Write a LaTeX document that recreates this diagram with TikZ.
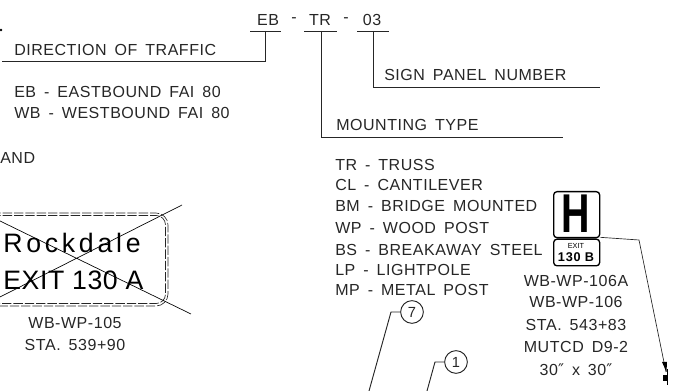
\documentclass[tikz,border=0pt]{standalone}
\usepackage{fontspec}
\setmainfont{Liberation Sans}
\newfontfamily\cad[LetterSpace=3.4,WordSpace=1.6]{Liberation Sans}
\newfontfamily\signa[LetterSpace=14]{Liberation Sans}
\newfontfamily\signb[LetterSpace=2]{Liberation Sans}
\newfontfamily\signc[LetterSpace=6]{Liberation Sans}
\begin{document}
\begin{tikzpicture}[x=0.75pt,y=-0.75pt,
  ink/.style={line width=0.7pt,black!85},
  txt/.style={font=\cad\fontsize{12}{14}\selectfont,inner sep=0pt,anchor=west,black!85},
  ctxt/.style={font=\cad\fontsize{12}{14}\selectfont,inner sep=0pt,anchor=center,black!85},
  signname/.style={font=\signa\fontsize{20}{22}\selectfont,inner sep=0pt,anchor=center,black},
  signexit/.style={font=\signb\fontsize{20}{22}\selectfont,inner sep=0pt,anchor=center,black},
  balloon/.style={draw,circle,ink,minimum size=17pt,inner sep=0pt,font=\fontsize{11}{13}\selectfont},
  panel/.style={draw=black,line width=1pt,rounded corners=2.5pt,inner sep=0pt,anchor=north west}]
\useasboundingbox (0,0) rectangle (687,391);
% code line
\node[ctxt] (eb) at (268,20) {EB};
\node[ctxt] at (294,20) {-};
\node[ctxt] (tr) at (320,20) {TR};
\node[ctxt] at (346,20) {-};
\node[ctxt] (pn) at (372,20) {03};
\coordinate (ebl) at (250,31); \coordinate (ebr) at (281,31);
\coordinate (trl) at (304,31); \coordinate (trr) at (337,31);
\coordinate (pnl) at (357,31); \coordinate (pnr) at (389,31);
\draw[ink] (ebl) -- (ebr) (trl) -- (trr) (pnl) -- (pnr);
\coordinate (ebt) at (265,31); \coordinate (ebc) at (265,61); \coordinate (ebe) at (2,61);
\coordinate (trt) at (321,31); \coordinate (trc) at (321,137); \coordinate (tre) at (563,137);
\coordinate (pnt) at (373,31); \coordinate (pnc) at (373,87); \coordinate (pne) at (600,87);
\draw[ink] (ebt) -- (ebc) -- (ebe);
\draw[ink] (trt) -- (trc) -- (tre);
\draw[ink] (pnt) -- (pnc) -- (pne);
\fill[black] (1,30) circle (1.3);
% labels
\node[txt] (dir) at (14,50) {DIRECTION OF TRAFFIC};
\node[txt] (eb1) at (14,92) {EB - EASTBOUND FAI 80};
\node[txt] (wb1) at (14,113) {WB - WESTBOUND FAI 80};
\node[txt] (and) at (0,158) {AND};
\node[txt] (spn) at (384,75) {SIGN PANEL NUMBER};
\node[txt] (mt) at (336,125) {MOUNTING TYPE};
\node[txt] (l1) at (335,165) {TR - TRUSS};
\node[txt] (l2) at (335,185) {CL - CANTILEVER};
\node[txt] (l3) at (335,206) {BM - BRIDGE MOUNTED};
\node[txt] (l4) at (335,228) {WP - WOOD POST};
\node[txt] (l5) at (335,250) {BS - BREAKAWAY STEEL};
\node[txt] (l6) at (335,270) {LP - LIGHTPOLE};
\node[txt] (l7) at (335,290) {MP - METAL POST};
% left sign
\draw[ink,dash pattern=on 7pt off 1.5pt,line width=0.5pt,rounded corners=9pt] (-20,213) -- (168,213) -- (168,306) -- (-20,306);
\draw[ink,dash pattern=on 7pt off 1.5pt,line width=0.5pt,rounded corners=7pt] (-20,215.5) -- (165.5,215.5) -- (165.5,303.5) -- (-20,303.5);
\node[signname] (rock) at (72,243) {Rockdale};
\node[signexit] (exa) at (73.5,280) {EXIT 130 A};
\coordinate (xa) at (182,205); \coordinate (xb) at (0,297);
\coordinate (xc) at (0,221); \coordinate (xd) at (191,314);
\draw[line width=0.5pt] (xa) -- (xb) (xc) -- (xd);
\node[ctxt] (w105) at (75,323) {WB-WP-105};
\node[ctxt] (s105) at (75,345) {STA. 539+90};
% right sign
\node[panel,minimum width=34.5pt,minimum height=34.5pt] (hp) at (553,191) {};
\node[font=\fontsize{41}{41}\selectfont\bfseries,inner sep=0pt,xscale=0.72] (hl) at (576,214) {H};
\node[panel,minimum width=34.5pt,minimum height=20pt] (ep) at (553,238.5) {};
\node[font=\fontsize{5.5}{5.5}\selectfont,inner sep=0pt] (ex) at (576,245.5) {EXIT};
\node[font=\signc\fontsize{9.5}{9.5}\selectfont\bfseries,inner sep=0pt] (bl) at (576,257) {130 B};
\node[ctxt] at (576,281) {WB-WP-106A};
\node[ctxt] at (576,302) {WB-WP-106};
\node[ctxt] at (576,325) {STA. 543+83};
\node[ctxt] at (576,347) {MUTCD D9-2};
\node[ctxt] at (576,370) {30{\fontspec{DejaVu Sans}″} x 30{\fontspec{DejaVu Sans}″}};
\coordinate (h1) at (639,240); \coordinate (h2) at (666,372);
\draw[ink,line width=0.5pt] (hp.south east) ++(0,-1) -- (h1) -- (h2);
\fill[black] (662,362) -- (667,362) -- (666.5,372) -- cycle;
\fill[black] (663,375) rectangle (667,381);
\draw[black,line width=0.6pt] (667,369) -- (667,385);
% balloons
\node[balloon] (b7) at (412,312) {7};
\node[balloon] (b1) at (456,362) {1};
\coordinate (k7) at (391,312); \coordinate (e7) at (369,391);
\coordinate (k1) at (435,362); \coordinate (e1) at (427,391);
\draw[ink] (b7) -- (k7) -- (e7);
\draw[ink] (b1) -- (k1) -- (e1);
\end{tikzpicture}
\end{document}
